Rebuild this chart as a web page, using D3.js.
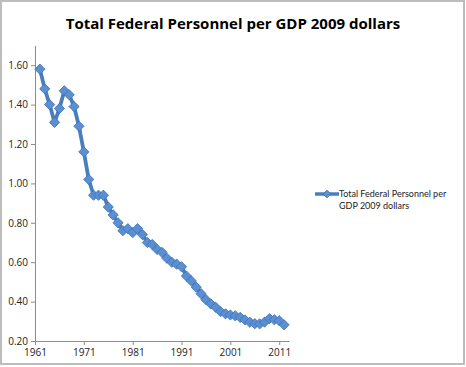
<!DOCTYPE html>
<html><head><meta charset="utf-8">
<script src="https://cdn.jsdelivr.net/npm/d3@7"></script>
<style>body{margin:0;background:#fff}svg{display:block}</style>
</head><body>
<script>
const years = d3.range(1962, 2013);
const values = [1.58,1.48,1.40,1.31,1.38,1.47,1.45,1.39,1.29,1.16,
 1.02,0.94,0.94,0.94,0.88,0.84,0.80,0.76,0.77,0.75,
 0.77,0.74,0.70,0.69,0.665,0.65,0.62,0.60,0.59,0.577,
 0.53,0.505,0.473,0.44,0.41,0.388,0.371,0.349,0.338,0.332,
 0.328,0.32,0.307,0.295,0.288,0.287,0.296,0.314,0.308,0.303,0.282];
const xTicks = [1961,1971,1981,1991,2001,2011];
const yTicks = [0.2,0.4,0.6,0.8,1.0,1.2,1.4,1.6];
const title = "Total Federal Personnel per GDP 2009 dollars";
const legendLines = ["Total Federal Personnel per","GDP 2009 dollars"];

const W=466,H=367;
const svg=d3.select("body").append("svg").attr("width",W).attr("height",H);
svg.append("rect").attr("x",1).attr("y",1).attr("width",463).attr("height",363)
  .attr("fill","#fff").attr("stroke","#bdbdbd").attr("stroke-width",2);

const x=d3.scaleLinear().domain([1961,2013]).range([35,289]);
const y=d3.scaleLinear().domain([0.2,1.7]).range([341,45.5]);
const font="'Open Sans', 'DejaVu Sans', sans-serif";

svg.append("text").attr("x",233).attr("y",29).attr("text-anchor","middle")
  .attr("font-family",font).attr("font-weight","bold").attr("font-size",15)
  .attr("fill","#000").text(title);

const ya=svg.append("g").attr("transform","translate(35,0)")
  .call(d3.axisLeft(y).tickValues(yTicks).tickSize(4).tickSizeOuter(0).tickFormat(d3.format(".2f")));
const xa=svg.append("g").attr("transform","translate(0,341)")
  .call(d3.axisBottom(x).tickValues(xTicks).tickSize(4).tickSizeOuter(0).tickFormat(d3.format("d")));
[ya,xa].forEach(g=>{
  g.select(".domain").attr("stroke","#8c8c8c").attr("stroke-width",1);
  g.selectAll(".tick line").attr("stroke","#8c8c8c");
  g.selectAll("text").attr("font-family",font).attr("font-size",10).attr("fill","#222");
});
ya.selectAll("text").attr("x",-7);
xa.selectAll("text").attr("y",8);

const data=years.map((yr,i)=>({yr,v:values[i]}));
const line=d3.line().x(d=>x(d.yr)).y(d=>y(d.v));
svg.append("path").datum(data).attr("d",line).attr("fill","none")
  .attr("stroke","#4a7ebb").attr("stroke-width",3.8).attr("stroke-linejoin","round");
const diamond=d3.symbol().type(d3.symbolSquare).size(52);
svg.selectAll(".pt").data(data).join("path").attr("class","pt")
  .attr("transform",d=>`translate(${x(d.yr)},${y(d.v)}) rotate(45)`).attr("d",diamond)
  .attr("fill","#5b8fd4").attr("stroke","#3f72b5").attr("stroke-width",0.8);

// legend
const lg=svg.append("g");
lg.append("line").attr("x1",315).attr("x2",339).attr("y1",194).attr("y2",194)
  .attr("stroke","#4a7ebb").attr("stroke-width",3.5);
lg.append("path").attr("transform","translate(327,194) rotate(45)").attr("d",d3.symbol().type(d3.symbolSquare).size(30))
  .attr("fill","#5b8fd4").attr("stroke","#3f72b5").attr("stroke-width",0.8);
lg.selectAll("text").data(legendLines).join("text").attr("x",339).attr("y",(d,i)=>197+i*12)
  .attr("font-family","Lato, 'Open Sans', sans-serif").attr("font-size",9).attr("fill","#222").text(d=>d);
</script>
</body></html>
